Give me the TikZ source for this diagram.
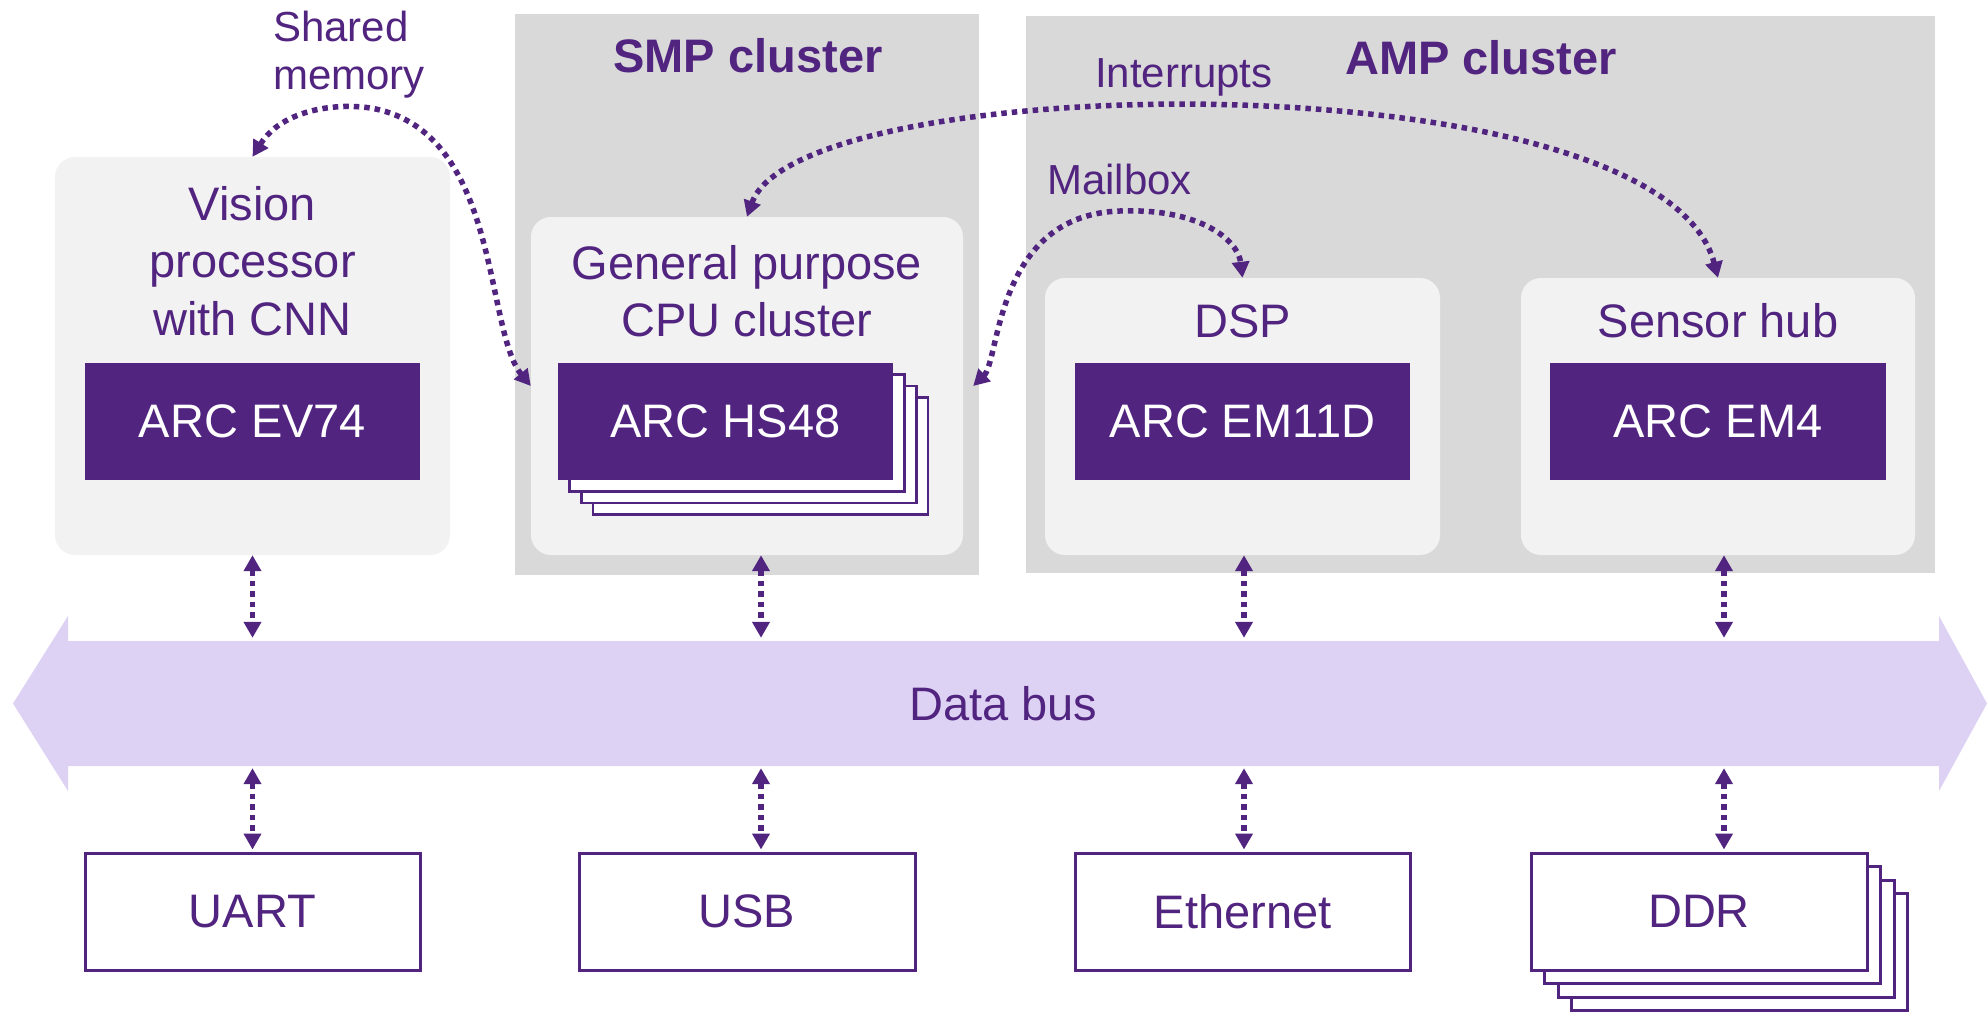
\documentclass[tikz,border=0pt]{standalone}
\usepackage{fontspec}
\setmainfont{Liberation Sans}
\usetikzlibrary{arrows.meta,calc,fit}
\definecolor{arcpurple}{RGB}{81,36,128}
\definecolor{clustergray}{RGB}{217,217,217}
\definecolor{boxgray}{RGB}{242,242,242}
\definecolor{busfill}{RGB}{222,210,244}
\tikzset{
  cluster/.style={fill=clustergray, inner sep=0pt},
  lightbox/.style={fill=boxgray, rounded corners=20pt, inner sep=0pt},
  corebox/.style={fill=arcpurple, text=white, inner sep=0pt, minimum width=335pt, minimum height=117pt,
    font=\fontsize{47pt}{57.5pt}\selectfont},
  periph/.style={draw=arcpurple, line width=3pt, fill=white, inner sep=0pt, minimum width=335pt, minimum height=117pt,
    text=arcpurple, font=\fontsize{47pt}{57.5pt}\selectfont},
  stackbox/.style={draw=arcpurple, line width=2.6pt, fill=white},
  lbl/.style={text=arcpurple, inner sep=0pt, font=\fontsize{47pt}{57.5pt}\selectfont},
  smalllbl/.style={text=arcpurple, inner sep=0pt, font=\fontsize{42pt}{48pt}\selectfont},
  titlelbl/.style={text=arcpurple, inner sep=0pt, font=\fontsize{47pt}{57.5pt}\selectfont\bfseries},
  link/.style={draw=arcpurple, line width=5.5pt, dash pattern=on 5.5pt off 5pt,
    {Triangle[width=17pt,length=16pt]}-{Triangle[width=17pt,length=16pt]}},
}
\begin{document}
\begin{tikzpicture}[x=1pt,y=-1pt]
\useasboundingbox (0,0) rectangle (1987,1012);
\fill[white] (0,0) rectangle (1987,1012);

% clusters
\node[cluster, fit={(515,14) (979,575)}] (smp) {};
\node[cluster, fit={(1026,16) (1935,573)}] (amp) {};
\node[titlelbl, anchor=base] (smptitle) at (748,72) {SMP cluster};
\node[titlelbl, anchor=base] (amptitle) at (1481,74) {AMP cluster};

% processor boxes
\node[lightbox, fit={(55,157) (450,555)}] (vision) {};
\node[lightbox, fit={(531,217) (963,555)}] (gp) {};
\node[lightbox, fit={(1045,278) (1440,555)}] (dsp) {};
\node[lightbox, fit={(1521,278) (1915,555)}] (sensor) {};

\node[lbl, align=center, anchor=north] (visiontxt) at (252.5,186) {Vision\\processor\\with CNN};
\node[lbl, align=center, anchor=north] (gptxt) at (747,245) {General purpose\\CPU cluster};
\node[lbl, anchor=base] (dsptxt) at (1242.5,337) {DSP};
\node[lbl, anchor=base] (hubtxt) at (1718,337) {Sensor hub};

% cores
\node[corebox] (ev74) at (252.5,421.5) {ARC EV74};
\foreach \k in {3,2,1}{
  \draw[stackbox] ({558+11.7*\k},{363+11.5*\k}) rectangle ({893+11.7*\k},{480+11.5*\k});
}
\node[corebox] (hs48) at (725.5,421.5) {ARC HS48};
\node[corebox] (em11d) at (1242.5,421.5) {ARC EM11D};
\node[corebox, minimum width=336pt] (em4) at (1718,421.5) {ARC EM4};

% labels of links
\node[smalllbl, align=left, anchor=north west] (shmlbl) at (273,10.5) {Shared\\memory};
\node[smalllbl, anchor=base west] (intlbl) at (1095,87) {Interrupts};
\node[smalllbl, anchor=base west] (mbxlbl) at (1047,194) {Mailbox};

% inter-processor links
\draw[link] (vision.north) .. controls (285,105) and (350,102) .. (380,110)
  .. controls (500,140) and (485,330) .. (gp.west);
\draw[link] (gp.north) .. controls (800,68) and (1660,56) .. (sensor.north);
\draw[link] ([xshift=10pt]gp.east) .. controls (1000,360) and (995,215) .. (1120,211)
  .. controls (1200,208) and (1238,240) .. (dsp.north);

% data bus
\fill[busfill] (13,703.5) -- (68,616) -- (68,641) -- (1939,641) -- (1939,616) -- (1987,703.5)
  -- (1939,791) -- (1939,766) -- (68,766) -- (68,791) -- cycle;
\node[lbl, inner sep=0pt, minimum width=1871pt, minimum height=125pt] (bus) at (1003.5,703.5) {Data bus};

% peripherals
\node[periph] (uart) at (252.5,911.5) {UART};
\node[periph, minimum width=336pt] (usb) at (747,911.5) {USB};
\node[periph] (eth) at (1242.5,911.5) {Ethernet};
\foreach \k in {3,2,1}{
  \draw[stackbox, line width=3pt] ({1531+13.5*\k},{853+13.5*\k}) rectangle ({1867+13.5*\k},{970+13.5*\k});
}
\node[periph, minimum width=336pt] (ddr) at (1699,911.5) {DDR};

% bus links
\draw[link, shorten >=3pt] (vision.south) -- (vision.south |- bus.north);
\draw[link, shorten >=3pt] ([xshift=14pt]gp.south) -- ([xshift=14pt]gp.south |- bus.north);
\draw[link, shorten >=3pt] ([xshift=1.5pt]dsp.south) -- ([xshift=1.5pt]dsp.south |- bus.north);
\draw[link, shorten >=3pt] ([xshift=6pt]sensor.south) -- ([xshift=6pt]sensor.south |- bus.north);
\draw[link, shorten <=2pt, shorten >=2pt] (uart.north |- bus.south) -- (uart.north);
\draw[link, shorten <=2pt, shorten >=2pt] ([xshift=14pt]usb.north |- bus.south) -- ([xshift=14pt]usb.north);
\draw[link, shorten <=2pt, shorten >=2pt] ([xshift=1.5pt]eth.north |- bus.south) -- ([xshift=1.5pt]eth.north);
\draw[link, shorten <=2pt, shorten >=2pt] ([xshift=25pt]ddr.north |- bus.south) -- ([xshift=25pt]ddr.north);
\end{tikzpicture}
\end{document}
